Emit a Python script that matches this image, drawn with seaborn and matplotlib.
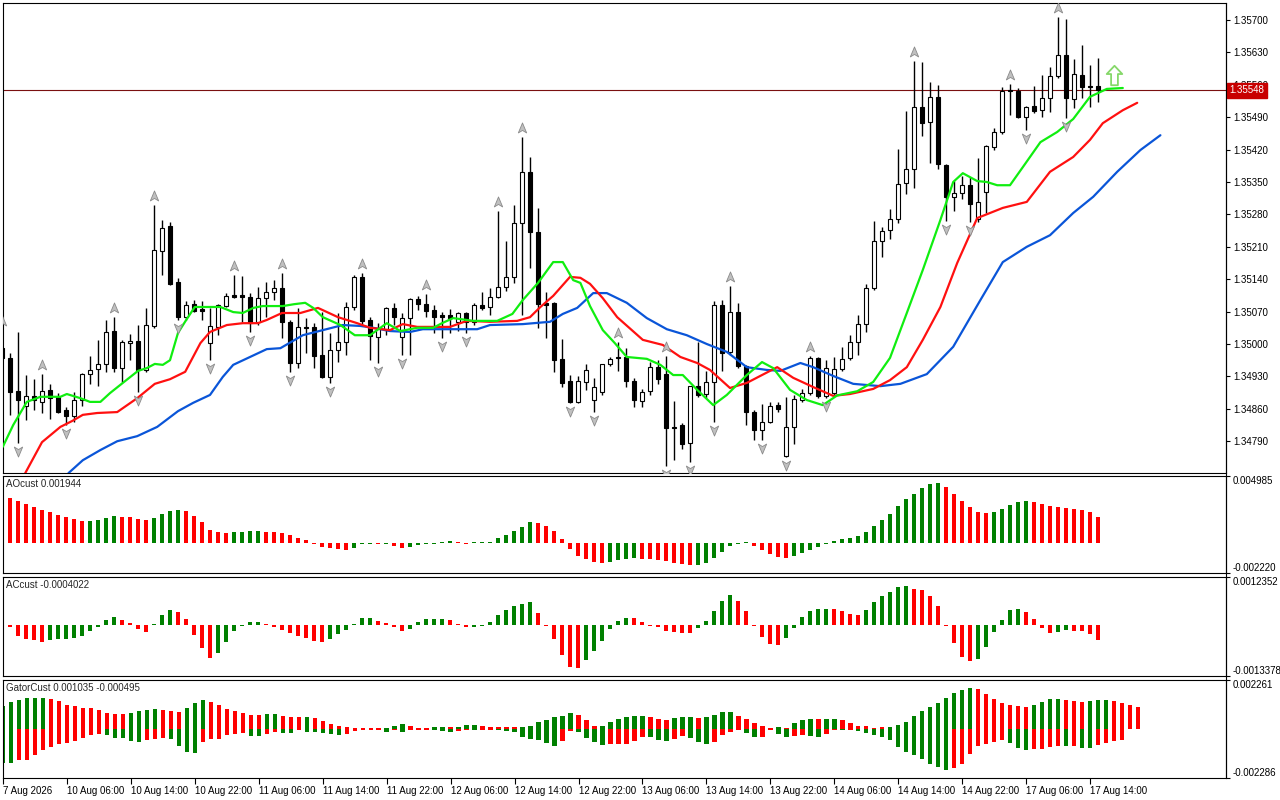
import matplotlib
matplotlib.use("Agg")
import matplotlib.pyplot as plt
import numpy as np
import seaborn as sns
from matplotlib.lines import Line2D
from matplotlib.path import Path
from matplotlib.ticker import FormatStrFormatter

sns.set_style("white")
plt.rcParams['font.family'] = ['Liberation Sans', 'DejaVu Sans']

# ---- hourly candles ----
OPEN = [
    1.34991, 1.34970, 1.34898, 1.34866, 1.34888, 1.34875, 1.34901, 1.34886, 1.34857, 1.34844,
    1.34879, 1.34935, 1.34946, 1.34957, 1.35028, 1.34948, 1.35002, 1.35006, 1.34944, 1.35039,
    1.35201, 1.35255, 1.35134, 1.35058, 1.35086, 1.35076, 1.35002, 1.35037, 1.35082, 1.35106,
    1.35106, 1.35102, 1.35048, 1.35099, 1.35112, 1.35121, 1.35048, 1.34959, 1.35037, 1.35037,
    1.34976, 1.34929, 1.34987, 1.35004, 1.35080, 1.35145, 1.35052, 1.35015, 1.35030, 1.35078,
    1.35015, 1.35056, 1.35097, 1.35086, 1.35073, 1.35063, 1.35063, 1.35048, 1.35067, 1.35048,
    1.35084, 1.35080, 1.35102, 1.35123, 1.35145, 1.35261, 1.35372, 1.35242, 1.35089, 1.35089,
    1.34968, 1.34920, 1.34875, 1.34918, 1.34879, 1.34896, 1.34957, 1.34972, 1.34972, 1.34920,
    1.34877, 1.34898, 1.34950, 1.34935, 1.34821, 1.34825, 1.34786, 1.34909, 1.34892, 1.34918,
    1.35084, 1.34983, 1.35069, 1.34952, 1.34853, 1.34814, 1.34832, 1.34868, 1.34758, 1.34821,
    1.34879, 1.34894, 1.34970, 1.34888, 1.34894, 1.34946, 1.34970, 1.35004, 1.35043, 1.35121,
    1.35222, 1.35246, 1.35270, 1.35348, 1.35378, 1.35512, 1.35480, 1.35534, 1.35387, 1.35318,
    1.35326, 1.35343, 1.35270, 1.35328, 1.35426, 1.35458, 1.35549, 1.35546, 1.35490, 1.35514,
    1.35505, 1.35531, 1.35579, 1.35624, 1.35529, 1.35581, 1.35557, 1.35557,
]
HIGH = [
    1.35030, 1.34981, 1.35026, 1.34933, 1.34924, 1.34935, 1.34914, 1.34894, 1.34864, 1.34896,
    1.34937, 1.34974, 1.35009, 1.35052, 1.35058, 1.35009, 1.35022, 1.35041, 1.35078, 1.35300,
    1.35268, 1.35264, 1.35143, 1.35093, 1.35095, 1.35093, 1.35078, 1.35086, 1.35110, 1.35149,
    1.35147, 1.35110, 1.35123, 1.35134, 1.35138, 1.35153, 1.35052, 1.35078, 1.35056, 1.35045,
    1.35069, 1.35024, 1.35067, 1.35091, 1.35149, 1.35153, 1.35058, 1.35045, 1.35080, 1.35089,
    1.35067, 1.35099, 1.35104, 1.35108, 1.35084, 1.35069, 1.35076, 1.35069, 1.35069, 1.35089,
    1.35112, 1.35121, 1.35287, 1.35222, 1.35300, 1.35447, 1.35404, 1.35294, 1.35112, 1.35091,
    1.35011, 1.34933, 1.34931, 1.34957, 1.34927, 1.34957, 1.34972, 1.35004, 1.34991, 1.34927,
    1.34903, 1.34961, 1.34965, 1.34974, 1.34877, 1.34829, 1.34909, 1.35004, 1.34942, 1.35093,
    1.35095, 1.35125, 1.35089, 1.34954, 1.34857, 1.34870, 1.34875, 1.34875, 1.34886, 1.34890,
    1.34903, 1.34974, 1.34972, 1.34965, 1.34972, 1.34994, 1.35019, 1.35063, 1.35130, 1.35266,
    1.35253, 1.35292, 1.35421, 1.35503, 1.35611, 1.35609, 1.35566, 1.35559, 1.35389, 1.35352,
    1.35363, 1.35361, 1.35402, 1.35430, 1.35467, 1.35555, 1.35562, 1.35553, 1.35514, 1.35557,
    1.35581, 1.35598, 1.35706, 1.35702, 1.35616, 1.35646, 1.35603, 1.35618,
]
LOW = [
    1.34955, 1.34847, 1.34786, 1.34836, 1.34857, 1.34851, 1.34838, 1.34851, 1.34825, 1.34832,
    1.34866, 1.34914, 1.34909, 1.34940, 1.34940, 1.34918, 1.34965, 1.34896, 1.34940, 1.35035,
    1.35149, 1.35127, 1.35052, 1.35052, 1.35069, 1.35052, 1.34965, 1.35019, 1.35080, 1.35099,
    1.35048, 1.35026, 1.35041, 1.35058, 1.35095, 1.35013, 1.34940, 1.34948, 1.34981, 1.34948,
    1.34927, 1.34916, 1.34961, 1.34976, 1.35073, 1.35041, 1.34965, 1.34959, 1.35019, 1.35041,
    1.34976, 1.34976, 1.35073, 1.35058, 1.35024, 1.35013, 1.35024, 1.35028, 1.35024, 1.35041,
    1.35073, 1.35063, 1.35099, 1.35114, 1.35132, 1.35063, 1.35164, 1.35035, 1.35013, 1.34940,
    1.34907, 1.34873, 1.34873, 1.34901, 1.34853, 1.34890, 1.34952, 1.34942, 1.34907, 1.34864,
    1.34864, 1.34890, 1.34914, 1.34736, 1.34749, 1.34773, 1.34745, 1.34886, 1.34883, 1.34831,
    1.34942, 1.34976, 1.34948, 1.34825, 1.34793, 1.34793, 1.34829, 1.34853, 1.34756, 1.34784,
    1.34875, 1.34890, 1.34883, 1.34883, 1.34890, 1.34942, 1.34965, 1.34976, 1.35026, 1.35117,
    1.35188, 1.35227, 1.35261, 1.35324, 1.35337, 1.35449, 1.35391, 1.35378, 1.35266, 1.35287,
    1.35313, 1.35264, 1.35264, 1.35283, 1.35419, 1.35454, 1.35495, 1.35488, 1.35462, 1.35499,
    1.35490, 1.35501, 1.35575, 1.35488, 1.35510, 1.35531, 1.35512, 1.35523,
]
CLOSE = [
    1.34970, 1.34896, 1.34879, 1.34888, 1.34879, 1.34898, 1.34883, 1.34853, 1.34844, 1.34879,
    1.34935, 1.34944, 1.34957, 1.35026, 1.34948, 1.35004, 1.35006, 1.34944, 1.35041, 1.35203,
    1.35251, 1.35130, 1.35058, 1.35084, 1.35071, 1.35071, 1.35039, 1.35084, 1.35104, 1.35102,
    1.35102, 1.35045, 1.35099, 1.35112, 1.35121, 1.35048, 1.34959, 1.35037, 1.35035, 1.34974,
    1.34929, 1.34987, 1.35004, 1.35080, 1.35145, 1.35050, 1.35017, 1.35035, 1.35078, 1.35058,
    1.35056, 1.35097, 1.35086, 1.35071, 1.35058, 1.35058, 1.35056, 1.35067, 1.35048, 1.35084,
    1.35078, 1.35102, 1.35123, 1.35145, 1.35261, 1.35372, 1.35242, 1.35086, 1.35084, 1.34965,
    1.34916, 1.34875, 1.34920, 1.34944, 1.34907, 1.34957, 1.34968, 1.34970, 1.34920, 1.34879,
    1.34896, 1.34950, 1.34924, 1.34819, 1.34819, 1.34784, 1.34909, 1.34890, 1.34918, 1.35084,
    1.34981, 1.35069, 1.34952, 1.34853, 1.34814, 1.34832, 1.34866, 1.34860, 1.34821, 1.34881,
    1.34894, 1.34970, 1.34888, 1.34948, 1.34946, 1.34968, 1.35004, 1.35043, 1.35121, 1.35222,
    1.35244, 1.35270, 1.35346, 1.35378, 1.35512, 1.35477, 1.35534, 1.35389, 1.35318, 1.35326,
    1.35343, 1.35302, 1.35307, 1.35428, 1.35458, 1.35546, 1.35546, 1.35490, 1.35512, 1.35503,
    1.35531, 1.35579, 1.35624, 1.35531, 1.35583, 1.35555, 1.35555, 1.35548,
]

# fractal bars
UP_FRACTALS = [0, 5, 14, 19, 29, 35, 45, 53, 62, 65, 77, 83, 91, 101, 114, 126, 132]
DOWN_FRACTALS = [2, 8, 17, 22, 26, 31, 36, 41, 47, 50, 55, 58, 71, 74, 83, 86, 89,
                 95, 98, 103, 118, 121, 128, 133]
SIGNAL_BAR = 139
SIGNAL_PRICE = 1.35581

# alligator lines (bar position, price), shifted lines run past the last candle
LIPS_X = [0.1, 1.4, 3.1, 4.8, 7.3, 8.1, 9.8, 11, 12.3, 13.5, 15.1, 17, 18.1, 19.1, 20.1, 21, 22,
          23.1, 24.1, 26, 27.3, 28.9, 30.1, 31.4, 32.6, 35.1, 36.5, 37.9, 38.9, 40.1, 42.3, 44.1,
          46, 48.1, 49.8, 51.9, 53.9, 55, 56.4, 58.9, 61.9, 63.8, 65.1, 67, 68.9, 70.1, 71.4,
          72.3, 73.5, 75.1, 76.6, 78.1, 80.6, 82.3, 83.9, 85.1, 86.9, 88.9, 90.6, 93.1, 95,
          96.4, 98.5, 100.6, 102.6, 104.4, 106.9, 108.9, 111, 113.1, 115.1, 117.3, 118.9, 120.1,
          121.9, 123.1, 124.4, 126, 127.6, 129.8, 131.9, 133.9, 136, 138.1, 140.1]
LIPS_Y = [1.34778, 1.34825, 1.34875, 1.34886, 1.34886, 1.34892, 1.34883, 1.34875, 1.34875,
          1.34894, 1.34916, 1.34942, 1.34948, 1.34957, 1.34955, 1.34965, 1.35024, 1.35054,
          1.35080, 1.35080, 1.35080, 1.35069, 1.35067, 1.35078, 1.35082, 1.35082, 1.35086,
          1.35089, 1.35078, 1.35058, 1.35041, 1.35019, 1.35019, 1.35045, 1.35028, 1.35035,
          1.35035, 1.35045, 1.35056, 1.35050, 1.35050, 1.35065, 1.35095, 1.35132, 1.35177,
          1.35177, 1.35138, 1.35132, 1.35082, 1.35030, 1.35002, 1.34972, 1.34968, 1.34955,
          1.34933, 1.34933, 1.34901, 1.34868, 1.34890, 1.34933, 1.34961, 1.34948, 1.34901,
          1.34879, 1.34868, 1.34889, 1.34898, 1.34918, 1.34970, 1.35067, 1.35160, 1.35268,
          1.35350, 1.35369, 1.35352, 1.35350, 1.35343, 1.35343, 1.35382, 1.35436, 1.35458,
          1.35486, 1.35534, 1.35551, 1.35553]
TEETH_X = [2.9, 5, 7.3, 8.8, 10.1, 11.9, 14.4, 16.9, 19.1, 21, 22.9, 24.8, 26, 28.1, 30.1, 32,
           33.1, 35, 37.3, 39.5, 42, 44.4, 46, 48.5, 50.1, 51.9, 56, 58.1, 61, 64.4, 66, 67.3,
           68.9, 71, 72.3, 73.5, 75.1, 76.9, 80.1, 82.6, 84.8, 86.9, 88.5, 91, 93.1, 96.9, 98.9,
           101.4, 103.9, 106, 108.9, 111, 113.1, 115.1, 117.3, 119.4, 121.9, 125.1, 128.1, 131,
           133.9, 136, 137.6, 140.1, 141.9]
TEETH_Y = [1.34721, 1.34788, 1.34821, 1.34834, 1.34847, 1.34851, 1.34853, 1.34883, 1.34914,
           1.34924, 1.34940, 1.35002, 1.35026, 1.35041, 1.35045, 1.35045, 1.35052, 1.35067,
           1.35067, 1.35078, 1.35058, 1.35045, 1.35035, 1.35030, 1.35043, 1.35037, 1.35037,
           1.35050, 1.35048, 1.35050, 1.35058, 1.35080, 1.35104, 1.35145, 1.35143, 1.35130,
           1.35099, 1.35058, 1.35009, 1.34998, 1.34972, 1.34959, 1.34944, 1.34905, 1.34916,
           1.34950, 1.34927, 1.34907, 1.34888, 1.34892, 1.34903, 1.34922, 1.34950, 1.35009,
           1.35080, 1.35175, 1.35272, 1.35294, 1.35307, 1.35372, 1.35404, 1.35441, 1.35477,
           1.35505, 1.35521]
JAW_X = [8.3, 10.1, 12.3, 14.4, 16.9, 19.4, 22, 23.9, 26, 27.6, 28.9, 31, 33.1, 34.8, 36, 37.6,
         40.1, 42.6, 44.8, 46.4, 48.5, 51, 52.6, 56.9, 59.4, 61, 65.1, 68.5, 70.1, 71.9, 73.9,
         75.6, 78.1, 80.6, 83.1, 85.6, 88.1, 90.6, 93.1, 95.6, 97.3, 99.8, 101.4, 103.9, 106.4,
         109.8, 112.3, 115.6, 118.9, 122.3, 125.1, 128.1, 131, 133.9, 136.4, 139.4, 142.3, 144.8]
JAW_Y = [1.34721, 1.34749, 1.34771, 1.34790, 1.34801, 1.34821, 1.34855, 1.34873, 1.34890,
         1.34929, 1.34955, 1.34972, 1.34989, 1.34991, 1.35003, 1.35019, 1.35030, 1.35041,
         1.35039, 1.35035, 1.35028, 1.35026, 1.35032, 1.35032, 1.35032, 1.35041, 1.35043,
         1.35048, 1.35065, 1.35078, 1.35110, 1.35110, 1.35089, 1.35056, 1.35032, 1.35019,
         1.35000, 1.34983, 1.34950, 1.34944, 1.34942, 1.34959, 1.34950, 1.34931, 1.34914,
         1.34909, 1.34914, 1.34935, 1.34994, 1.35095, 1.35177, 1.35210, 1.35235, 1.35283,
         1.35318, 1.35372, 1.35419, 1.35451]

PRICE_TICKS = [1.34790, 1.34860, 1.34930, 1.35000, 1.35070, 1.35140, 1.35210, 1.35280,
               1.35350, 1.35420, 1.35490, 1.35560, 1.35630, 1.35700]

# ---- oscillators ----
AO = [
    0.003450, 0.003375, 0.003150, 0.002925, 0.002700, 0.002475, 0.002325, 0.002100, 0.001950, 0.001800,
    0.001650, 0.001675, 0.001725, 0.001875, 0.002025, 0.002000, 0.001950, 0.001800, 0.001725, 0.001875,
    0.002175, 0.002400, 0.002475, 0.002400, 0.002025, 0.001575, 0.000975, 0.000825, 0.000750, 0.000825,
    0.000850, 0.000900, 0.000925, 0.000875, 0.000825, 0.000750, 0.000600, 0.000375, 0.000225, -0.000025,
    -0.000275, -0.000350, -0.000450, -0.000475, -0.000350, -0.000075, -0.000040, -0.000060, -0.000050, -0.000200,
    -0.000375, -0.000275, -0.000125, -0.000030, -0.000020, 0.000050, 0.000150, 0.000050, -0.000020, 0.000000,
    0.000050, 0.000060, 0.000375, 0.000600, 0.000900, 0.001200, 0.001575, 0.001500, 0.001275, 0.000900,
    0.000300, -0.000450, -0.000975, -0.001200, -0.001425, -0.001500, -0.001425, -0.001275, -0.001200, -0.001125,
    -0.001150, -0.001200, -0.001275, -0.001350, -0.001500, -0.001575, -0.001650, -0.001645, -0.001500, -0.001125,
    -0.000675, -0.000225, -0.000020, 0.000000, -0.000200, -0.000525, -0.000825, -0.001050, -0.001125, -0.000975,
    -0.000750, -0.000525, -0.000300, -0.000050, 0.000150, 0.000300, 0.000375, 0.000525, 0.000825, 0.001275,
    0.001725, 0.002175, 0.002775, 0.003300, 0.003675, 0.004125, 0.004425, 0.004500, 0.004200, 0.003675,
    0.003150, 0.002700, 0.002325, 0.002250, 0.002325, 0.002550, 0.002850, 0.003075, 0.003150, 0.003075,
    0.002925, 0.002775, 0.002700, 0.002690, 0.002550, 0.002475, 0.002325, 0.001944,
]
AO_COLORS = ("GRRRRRRRRR" "RGGGGRRRRG" "GGGRRRRRRG" "GGGRRRRRRR" "RRRRGGGRGR"
             "RGGGGGGRRG" "GGGGGGGRRR" "RRRRRRGGGG" "RRRRRRRGGG" "GGGGRRRRRG"
             "GGGGGGGGGG" "GGGGGGGGRR" "RRRRGGGGGR" "RRRRRRRR")

AC = [
    0.000260, -0.000040, -0.000290, -0.000368, -0.000385, -0.000440, -0.000385, -0.000360, -0.000355, -0.000333,
    -0.000280, -0.000158, -0.000040, 0.000131, 0.000210, 0.000131, 0.000053, -0.000096, -0.000184, 0.000010,
    0.000260, 0.000394, 0.000350, 0.000158, -0.000260, -0.000600, -0.000870, -0.000735, -0.000446, -0.000158,
    -0.000020, 0.000079, 0.000080, 0.000020, -0.000040, -0.000120, -0.000200, -0.000280, -0.000333, -0.000410,
    -0.000440, -0.000360, -0.000228, -0.000120, 0.000030, 0.000184, 0.000185, 0.000105, 0.000053, -0.000050,
    -0.000158, -0.000105, 0.000079, 0.000158, 0.000160, 0.000162, 0.000131, 0.000020, -0.000050, -0.000045,
    -0.000020, 0.000079, 0.000260, 0.000394, 0.000500, 0.000550, 0.000600, 0.000315, -0.000020, -0.000368,
    -0.000790, -0.001100, -0.001130, -0.000910, -0.000670, -0.000410, -0.000105, 0.000105, 0.000184, 0.000180,
    0.000079, -0.000020, -0.000050, -0.000158, -0.000184, -0.000210, -0.000212, -0.000080, 0.000105, 0.000368,
    0.000630, 0.000790, 0.000630, 0.000368, -0.000020, -0.000315, -0.000500, -0.000525, -0.000340, -0.000070,
    0.000210, 0.000368, 0.000420, 0.000422, 0.000418, 0.000368, 0.000290, 0.000260, 0.000394, 0.000600,
    0.000760, 0.000870, 0.001000, 0.001020, 0.000950, 0.000920, 0.000760, 0.000500, -0.000020, -0.000470,
    -0.000840, -0.000950, -0.000890, -0.000580, -0.000184, 0.000131, 0.000394, 0.000420, 0.000340, 0.000158,
    -0.000080, -0.000210, -0.000184, -0.000130, -0.000158, -0.000160, -0.000236, -0.000402,
]
AC_COLORS = ("RRRRRRGGGG" "GGGGGRRRRG" "GGRRRRRGGG" "GGGRRRRRRR" "RGGGGGGRRR"
             "RGGGGGRRRG" "GGGGGGGRRR" "RRRGGGGGGR" "RRRRRRRGGG" "GGRRRRRRGG"
             "GGGGRRRRGG" "GGGGRRRRRR" "RRGGGGGGRR" "RRGGRRRR")

GATOR_UP = [
    0.001094, 0.001266, 0.001359, 0.001453, 0.001453, 0.001453, 0.001406, 0.001313, 0.001125, 0.001078,
    0.000984, 0.000984, 0.000891, 0.000750, 0.000703, 0.000703, 0.000750, 0.000844, 0.000891, 0.000938,
    0.000891, 0.000844, 0.000797, 0.000984, 0.001219, 0.001359, 0.001266, 0.001125, 0.000938, 0.000844,
    0.000750, 0.000656, 0.000656, 0.000703, 0.000703, 0.000609, 0.000563, 0.000563, 0.000563, 0.000516,
    0.000375, 0.000234, 0.000141, 0.000094, 0.000047, 0.000047, 0.000047, 0.000047, 0.000047, 0.000141,
    0.000234, 0.000141, 0.000047, 0.000047, 0.000094, 0.000094, 0.000094, 0.000094, 0.000188, 0.000188,
    0.000141, 0.000094, 0.000094, 0.000094, 0.000094, 0.000094, 0.000141, 0.000328, 0.000422, 0.000563,
    0.000609, 0.000750, 0.000656, 0.000422, 0.000141, 0.000141, 0.000328, 0.000469, 0.000563, 0.000609,
    0.000609, 0.000563, 0.000469, 0.000422, 0.000516, 0.000563, 0.000563, 0.000516, 0.000563, 0.000656,
    0.000797, 0.000797, 0.000609, 0.000469, 0.000281, 0.000141, 0.000047, 0.000094, 0.000047, 0.000281,
    0.000422, 0.000469, 0.000469, 0.000469, 0.000469, 0.000422, 0.000281, 0.000141, 0.000141, 0.000047,
    0.000094, 0.000094, 0.000188, 0.000328, 0.000609, 0.000844, 0.001031, 0.001219, 0.001453, 0.001688,
    0.001828, 0.001922, 0.001875, 0.001641, 0.001406, 0.001219, 0.001125, 0.001078, 0.001031, 0.001125,
    0.001266, 0.001406, 0.001406, 0.001391, 0.001313, 0.001266, 0.001313, 0.001359, 0.001375, 0.001313,
    0.001219, 0.001125, 0.001035,
]
GATOR_UP_COLORS = ("GGGGGGRRRR" "RRRRRRGGGG" "RRRGGGRRRR" "RRRGGRRRGR" "RRRRRRRRGG"
                   "GRRRGGRGGG" "RRRRRGGGGG" "GGRRRGGGGG" "GRRRGGGRGG" "GGRRRRRGRG"
                   "GGRGGRRRRR" "RGGGGGGGGG" "GGRRRRRRRG" "GGGRRRGGGR" "RRR")
GATOR_LO = [
    -0.001563, -0.001578, -0.001453, -0.001453, -0.001219, -0.000984, -0.000844, -0.000703, -0.000641, -0.000547,
    -0.000422, -0.000281, -0.000234, -0.000281, -0.000422, -0.000422, -0.000563, -0.000609, -0.000516, -0.000469,
    -0.000422, -0.000469, -0.000797, -0.001078, -0.001125, -0.000609, -0.000469, -0.000469, -0.000281, -0.000234,
    -0.000188, -0.000328, -0.000328, -0.000234, -0.000141, -0.000188, -0.000188, -0.000047, -0.000141, -0.000141,
    -0.000188, -0.000234, -0.000281, -0.000234, -0.000078, -0.000047, -0.000047, -0.000047, -0.000141, -0.000047,
    -0.000141, -0.000047, -0.000047, -0.000047, -0.000047, -0.000094, -0.000141, -0.000094, -0.000047, -0.000047,
    -0.000047, -0.000047, -0.000047, -0.000094, -0.000141, -0.000375, -0.000469, -0.000516, -0.000656, -0.000797,
    -0.000563, -0.000094, -0.000141, -0.000422, -0.000609, -0.000750, -0.000703, -0.000703, -0.000703, -0.000563,
    -0.000375, -0.000375, -0.000516, -0.000563, -0.000469, -0.000328, -0.000422, -0.000609, -0.000703, -0.000609,
    -0.000281, -0.000141, -0.000047, -0.000188, -0.000375, -0.000375, -0.000047, -0.000234, -0.000375, -0.000328,
    -0.000281, -0.000328, -0.000375, -0.000234, -0.000047, -0.000047, -0.000047, -0.000094, -0.000188, -0.000281,
    -0.000375, -0.000516, -0.000844, -0.001078, -0.001219, -0.001406, -0.001641, -0.001781, -0.001922, -0.001828,
    -0.001641, -0.001172, -0.000797, -0.000703, -0.000609, -0.000516, -0.000656, -0.000891, -0.000984, -0.000938,
    -0.000938, -0.000844, -0.000797, -0.000797, -0.000797, -0.000891, -0.000891, -0.000750, -0.000656, -0.000563,
    -0.000495,
]
GATOR_LO_COLORS = ("GGRRRRRRRR" "RRRGGGGGRR" "RGGGGRRRRR" "RGGRRGGRGG" "GGGRRRRRGR"
                   "GRRRGGGRRG" "RRGGGGGGGG" "RRGGGGRRRR" "RGGGRRGGGR" "RRRGGRRGGR"
                   "RGGRRGRGGG" "GGGGGGGGGR" "RRRRRRGGGR" "RRRGRGGRRR" "R")

TIME_LABELS = ["7 Aug 2026", "10 Aug 06:00", "10 Aug 14:00", "10 Aug 22:00", "11 Aug 06:00",
               "11 Aug 14:00", "11 Aug 22:00", "12 Aug 06:00", "12 Aug 14:00", "12 Aug 22:00",
               "13 Aug 06:00", "13 Aug 14:00", "13 Aug 22:00", "14 Aug 06:00", "14 Aug 14:00",
               "14 Aug 22:00", "17 Aug 06:00", "17 Aug 14:00"]
TIME_BARS = list(range(0, 137, 8))

HIST = {'G': '#008000', 'R': '#ff0000'}
FS = 7

fig = plt.figure(figsize=(12.8, 8), dpi=100, facecolor='white')


def add_panel(top, bottom):
    return fig.add_axes([3 / 1280, 1 - bottom / 800, 1223 / 1280, (bottom - top) / 800])


def style_axes(ax):
    ax.set_xlim(0.125, 153)
    for s in ax.spines.values():
        s.set_color('black')
        s.set_linewidth(0.8)
    ax.tick_params(axis='y', left=False, right=True, labelleft=False, labelright=True,
                   direction='out', length=3, width=0.8, pad=2, labelsize=FS, colors='black')
    ax.tick_params(axis='x', bottom=False, labelbottom=False)


ax = add_panel(3, 473)
ax_ao = add_panel(476, 573)
ax_ac = add_panel(577, 676)
ax_gt = add_panel(680, 778)

# ---- price panel ----
x = np.arange(len(OPEN))
o, h, l, c = map(np.array, (OPEN, HIGH, LOW, CLOSE))
ax.vlines(x, l, h, color='black', linewidth=1, zorder=3)
body_bottom = np.minimum(o, c)
body_height = np.maximum(np.abs(c - o), 0.00002)
body_color = ['white' if cc > oo else 'black' for oo, cc in zip(o, c)]
ax.bar(x, body_height, bottom=body_bottom, width=0.62, color=body_color,
       edgecolor='black', linewidth=0.8, zorder=4)

sns.lineplot(x=JAW_X, y=JAW_Y, ax=ax, color='#0a55d8', linewidth=1.6, sort=False,
             estimator=None, zorder=5)
sns.lineplot(x=TEETH_X, y=TEETH_Y, ax=ax, color='#ff1010', linewidth=1.6, sort=False,
             estimator=None, zorder=5)
sns.lineplot(x=LIPS_X, y=LIPS_Y, ax=ax, color='#10ee10', linewidth=1.6, sort=False,
             estimator=None, zorder=6)

up_head = Path([(0, 1), (0.75, -0.8), (0, -0.35), (-0.75, -0.8), (0, 1)],
               [Path.MOVETO, Path.LINETO, Path.LINETO, Path.LINETO, Path.CLOSEPOLY])
down_head = Path([(0, -1), (0.75, 0.8), (0, 0.35), (-0.75, 0.8), (0, -1)],
                 [Path.MOVETO, Path.LINETO, Path.LINETO, Path.LINETO, Path.CLOSEPOLY])
ax.plot(UP_FRACTALS, h[UP_FRACTALS] + 0.00019, linestyle='none', marker=up_head,
        markersize=8, mfc='#c0c0c0', mec='#8a8a8a', mew=0.6, zorder=7)
ax.plot(DOWN_FRACTALS, l[DOWN_FRACTALS] - 0.00017, linestyle='none', marker=down_head,
        markersize=8, mfc='#c0c0c0', mec='#8a8a8a', mew=0.6, zorder=7)

block_arrow = Path([(0, 1), (0.8, 0.15), (0.35, 0.15), (0.35, -1), (-0.35, -1),
                    (-0.35, 0.15), (-0.8, 0.15), (0, 1)],
                   [Path.MOVETO] + [Path.LINETO] * 6 + [Path.CLOSEPOLY])
ax.plot([SIGNAL_BAR], [SIGNAL_PRICE], marker=block_arrow, markersize=14,
        mfc='white', mec='#86d86a', mew=1.3, zorder=8)

style_axes(ax)
ax.set_ylim(1.347214, 1.357366)
ax.set_yticks(PRICE_TICKS)
ax.yaxis.set_major_formatter(FormatStrFormatter('%.5f'))
ax.axhline(CLOSE[-1], color='#7a1010', linewidth=0.8, zorder=2)
ax.annotate(f"{CLOSE[-1]:.5f}", xy=(1, CLOSE[-1]), xycoords=('axes fraction', 'data'),
            xytext=(2.5, 0), textcoords='offset points', ha='left', va='center',
            fontsize=FS, color='white', annotation_clip=False, zorder=20,
            bbox=dict(boxstyle='square,pad=0.25', fc='#c80000', ec='#c80000'))
ax.set_xlabel('')
ax.set_ylabel('')


# ---- oscillator panels ----
def draw_hist(axh, values, colors, px):
    v = np.asarray(values, dtype=float)
    shown = np.where(np.abs(v) < px, np.where(v < 0, -px, px), v)
    axh.bar(np.arange(len(v)), shown, width=0.55,
            color=[HIST[k] for k in colors], linewidth=0)


def osc_panel(axp, lo, hi, top_label, bottom_label, title):
    style_axes(axp)
    axp.set_ylim(lo, hi)
    axp.set_yticks([lo, hi])
    axp.set_yticklabels([bottom_label, top_label])
    labels = axp.get_yticklabels()
    labels[0].set_va('bottom')
    labels[1].set_va('top')
    axp.annotate(title, xy=(0, 1), xycoords='axes fraction', xytext=(2.5, -6),
                 textcoords='offset points', ha='left', va='center', fontsize=FS)


draw_hist(ax_ao, AO, AO_COLORS, 0.00008)
osc_panel(ax_ao, -0.002222, 0.005058, '0.004985', '-0.002220', 'AOcust 0.001944')

draw_hist(ax_ac, AC, AC_COLORS, 0.000027)
osc_panel(ax_ac, -0.001339, 0.001260, '0.0012352', '-0.0013378', 'ACcust -0.0004022')

draw_hist(ax_gt, GATOR_UP, GATOR_UP_COLORS, 0.000047)
draw_hist(ax_gt, GATOR_LO, GATOR_LO_COLORS, 0.000047)
osc_panel(ax_gt, -0.002287, 0.002306, '0.002261', '-0.002286', 'GatorCust 0.001035 -0.000495')

ax_gt.tick_params(axis='x', bottom=True, labelbottom=True, direction='out', length=4,
                  width=0.8, pad=1.5, labelsize=FS, colors='black')
ax_gt.set_xticks(TIME_BARS)
ax_gt.set_xticklabels(TIME_LABELS, ha='left')

# right border runs unbroken through the panel gaps
fig.add_artist(Line2D([1226 / 1280, 1226 / 1280], [1 - 778 / 800, 1 - 3 / 800],
                      color='black', linewidth=0.8))

fig.savefig('out.png', dpi=100, facecolor='white')
